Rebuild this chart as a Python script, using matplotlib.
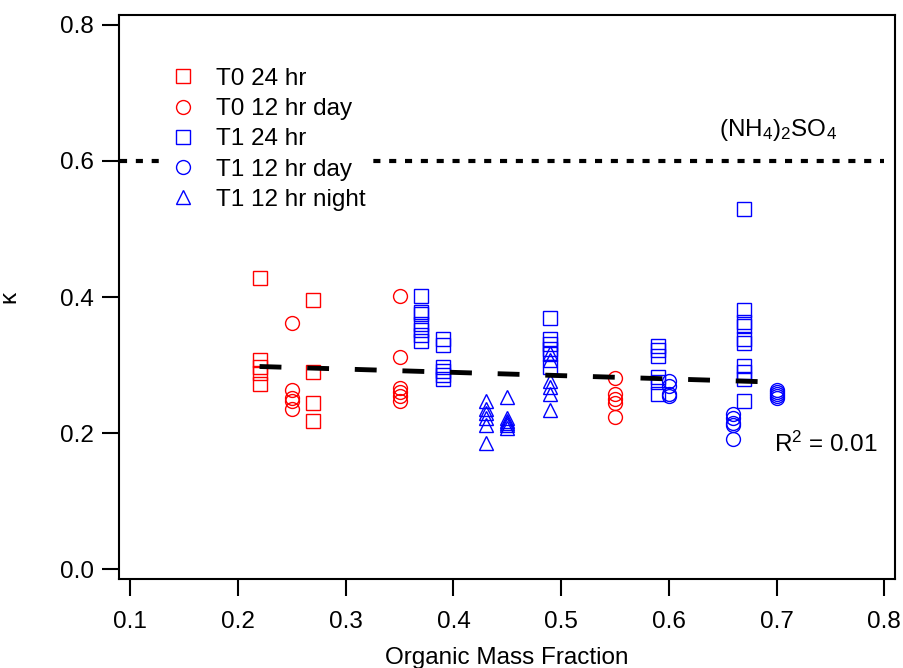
import numpy as np
import matplotlib
matplotlib.use("Agg")
import matplotlib.pyplot as plt

plt.rcParams['font.family'] = ['Liberation Sans', 'DejaVu Sans']
plt.rcParams['mathtext.fontset'] = 'custom'
plt.rcParams['mathtext.rm'] = 'Liberation Sans'
plt.rcParams['mathtext.default'] = 'regular'

# T0 24 hr (red squares)
t0_24_x = [0.22]*5 + [0.27]*4
t0_24_y = [0.428, 0.307, 0.297, 0.288, 0.272,
           0.396, 0.290, 0.245, 0.218]
# T0 12 hr day (red circles)
t0_day_x = [0.25]*5 + [0.35]*6 + [0.55]*5
t0_day_y = [0.362, 0.264, 0.252, 0.248, 0.235,
            0.402, 0.312, 0.266, 0.260, 0.255, 0.248,
            0.281, 0.258, 0.250, 0.245, 0.224]
# T1 24 hr (blue squares)
t1_24_x = [0.37]*7 + [0.39]*6 + [0.49]*6 + [0.59]*6 + [0.67]*10
t1_24_y = [0.401, 0.378, 0.375, 0.360, 0.352, 0.345, 0.335,
           0.338, 0.330, 0.298, 0.292, 0.286, 0.280,
           0.369, 0.338, 0.331, 0.324, 0.316, 0.297,
           0.328, 0.322, 0.313, 0.283, 0.275, 0.258,
           0.530, 0.381, 0.364, 0.358, 0.338, 0.332, 0.299, 0.290, 0.279, 0.248]
# T1 12 hr day (blue circles)
t1_day_x = [0.60]*4 + [0.66]*5 + [0.70]*5
t1_day_y = [0.277, 0.270, 0.258, 0.255,
            0.228, 0.222, 0.215, 0.212, 0.192,
            0.264, 0.261, 0.258, 0.255, 0.252]
# T1 12 hr night (blue triangles)
t1_night_x = [0.43]*6 + [0.45]*6 + [0.49]*6
t1_night_y = [0.248, 0.236, 0.230, 0.222, 0.212, 0.185,
              0.253, 0.222, 0.218, 0.215, 0.212, 0.208,
              0.318, 0.307, 0.277, 0.268, 0.258, 0.234]

# linear fit (R^2 = 0.01) and ammonium sulfate reference
fit_x = [0.22, 0.70]
fit_y = [0.298, 0.275]
kappa_as = 0.600
as_range = [0.09, 0.80]

red = '#ff0000'
blue = '#0000ff'
fs = 17.5

fig = plt.figure(figsize=(9.04, 6.68), dpi=100)
ax = fig.add_axes([0.132, 0.1328, 0.8575, 0.8452])

mk = dict(ls='none', ms=10, mew=1.0, mfc='none')
ax.plot(t0_24_x, t0_24_y, marker='s', mec=red, label='T0 24 hr', **mk)
ax.plot(t0_day_x, t0_day_y, marker='o', mec=red, label='T0 12 hr day', **mk)
ax.plot(t1_24_x, t1_24_y, marker='s', mec=blue, label='T1 24 hr', **mk)
ax.plot(t1_day_x, t1_day_y, marker='o', mec=blue, label='T1 12 hr day', **mk)
ax.plot(t1_night_x, t1_night_y, marker='^', mec=blue, label='T1 12 hr night', **mk)

ax.plot(fit_x, fit_y, color='k', lw=3.5, dashes=(4.5, 5.3))
ax.hlines(kappa_as, as_range[0], as_range[1], color='k', lw=3, linestyles=(0, (1.7, 2.1)))

ax.text(0.701, 0.646, '(NH$_4$)$_2$SO$_4$', fontsize=fs, ha='center', va='center')
ax.text(0.746, 0.183, 'R$^2$ = 0.01', fontsize=fs, ha='center', va='center')

ax.set_xlim(0.0898, 0.8095)
ax.set_ylim(-0.0147, 0.815)
ax.set_xticks(np.arange(0.1, 0.81, 0.1))
ax.set_xticklabels(['0.1', '0.2', '0.3', '0.4', '0.5', '0.6', '0.7', '0.8'])
ax.set_yticks([0.0, 0.2, 0.4, 0.6, 0.8])
ax.set_yticklabels(['0.0', '0.2', '0.4', '0.6', '0.8'])

for s in ax.spines.values():
    s.set_linewidth(1.5)
ax.tick_params(direction='out', length=12.5, width=1.5, labelsize=fs)
ax.tick_params(axis='x', pad=10)
ax.tick_params(axis='y', pad=6)

ax.set_xlabel('Organic Mass Fraction', fontsize=fs, labelpad=10.5)
ax.set_ylabel('κ', fontsize=fs, labelpad=28)

# opaque legend box hides the dotted line behind it
leg = ax.legend(loc='upper left', bbox_to_anchor=(0.054, 0.919), frameon=True,
                fontsize=fs, labelspacing=0.34, handletextpad=0.77, handlelength=1.2,
                borderaxespad=0, borderpad=0.3, fancybox=False)
leg.get_frame().set_facecolor('white')
leg.get_frame().set_edgecolor('none')
leg.get_frame().set_alpha(1.0)

fig.savefig('out.png', dpi=100)
